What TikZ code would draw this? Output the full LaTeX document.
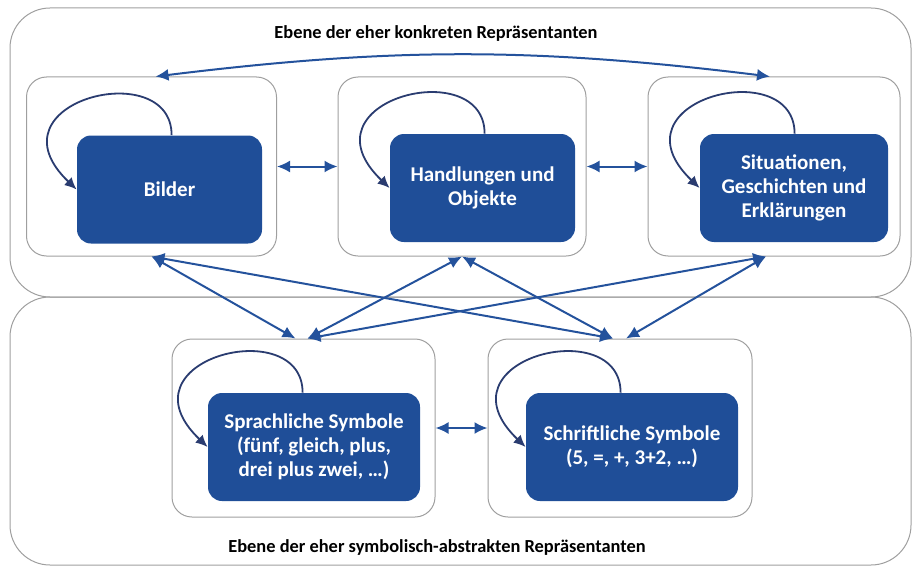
\documentclass[tikz,border=0pt]{standalone}
\usepackage{fontspec}
\setmainfont{Carlito}
\usepackage{tikz}
\usetikzlibrary{arrows.meta}
\definecolor{kastenblau}{RGB}{31,78,152}
\definecolor{pfeilblau}{RGB}{36,82,156}
\definecolor{schleifenblau}{RGB}{42,60,112}

\begin{document}
\begin{tikzpicture}[x=0.5pt,y=-0.5pt,
  ebene/.style={draw=gray!75,line width=0.5pt,rounded corners=20pt,minimum width=450.5pt},
  rahmen/.style={draw=gray!75,line width=0.5pt,rounded corners=10pt},
  kasten/.style={fill=kastenblau,text=white,rounded corners=7pt,minimum height=54pt,align=center,inner sep=0pt,
    font=\fontsize{10.5}{12}\selectfont\bfseries},
  pfeil/.style={draw=pfeilblau,line width=1pt,{Latex[length=6.5pt,width=6pt]}-{Latex[length=6.5pt,width=6pt]}},
  kreis/.style={draw=schleifenblau,line width=0.9pt,-{Latex[length=6pt,width=5.5pt]}},
  titel/.style={font=\fontsize{9.2}{11}\selectfont\bfseries}]
\useasboundingbox (0,0) rectangle (913,567);
\node[ebene,minimum height=144.5pt] (oben) at (460.5,152.5) {};
\node[ebene,minimum height=134pt] (unten) at (460.5,431) {};
\node[titel] (obentitel) at (436,33) {Ebene der eher konkreten Repräsentanten};
\node[titel] (untentitel) at (437,547) {Ebene der eher symbolisch-abstrakten Repräsentanten};

\node[rahmen,minimum width=125pt,minimum height=89.5pt] (c1) at (151.5,166.5) {};
\node[rahmen,minimum width=124pt,minimum height=89.5pt] (c2) at (462,166.5) {};
\node[rahmen,minimum width=126pt,minimum height=89.5pt] (c3) at (774,166.5) {};
\node[rahmen,minimum width=131.5pt,minimum height=89pt] (c4) at (303.5,428) {};
\node[rahmen,minimum width=132pt,minimum height=89pt] (c5) at (620,428) {};

\node[kasten,minimum width=92.5pt] (b1) at (169.5,189.5) {Bilder};
\node[kasten,minimum width=92.5pt] (b2) at (482.5,188) {Handlungen und\\Objekte};
\node[kasten,minimum width=94pt] (b3) at (794,188) {Situationen,\\Geschichten und\\Erklärungen};
\node[kasten,minimum width=106pt] (b4) at (314,447) {Sprachliche Symbole\\(fünf, gleich, plus,\\drei plus zwei, …)};
\node[kasten,minimum width=106pt] (b5) at (632,447) {Schriftliche Symbole\\(5, =, +, 3+2, …)};

\foreach \k in {b1,b2,b3,b4,b5}
  \draw[kreis] ([xshift=47.5pt]\k.north west) .. controls +(0,-80) and +(-92,-88) .. (\k.west);

\draw[pfeil] (c1.east) -- (c2.west);
\draw[pfeil] (c2.east) -- (c3.west);
\draw[pfeil] (c4.east) -- (c5.west);
\draw[pfeil] ([xshift=2pt]c1.north) to[bend left=7] ([xshift=-2pt]c3.north);

\draw[pfeil] (c1.south) -- ([xshift=-4pt]c4.north);
\draw[pfeil] (c1.south) -- ([xshift=-3.5pt]c5.north);
\draw[pfeil] (c2.south) -- ([xshift=2pt]c4.north);
\draw[pfeil] (c2.south) -- ([xshift=-3.5pt]c5.north);
\draw[pfeil] ([xshift=-4pt]c3.south) -- ([xshift=2pt]c4.north);
\draw[pfeil] ([xshift=-4pt]c3.south) -- ([xshift=3pt]c5.north);
\end{tikzpicture}
\end{document}
